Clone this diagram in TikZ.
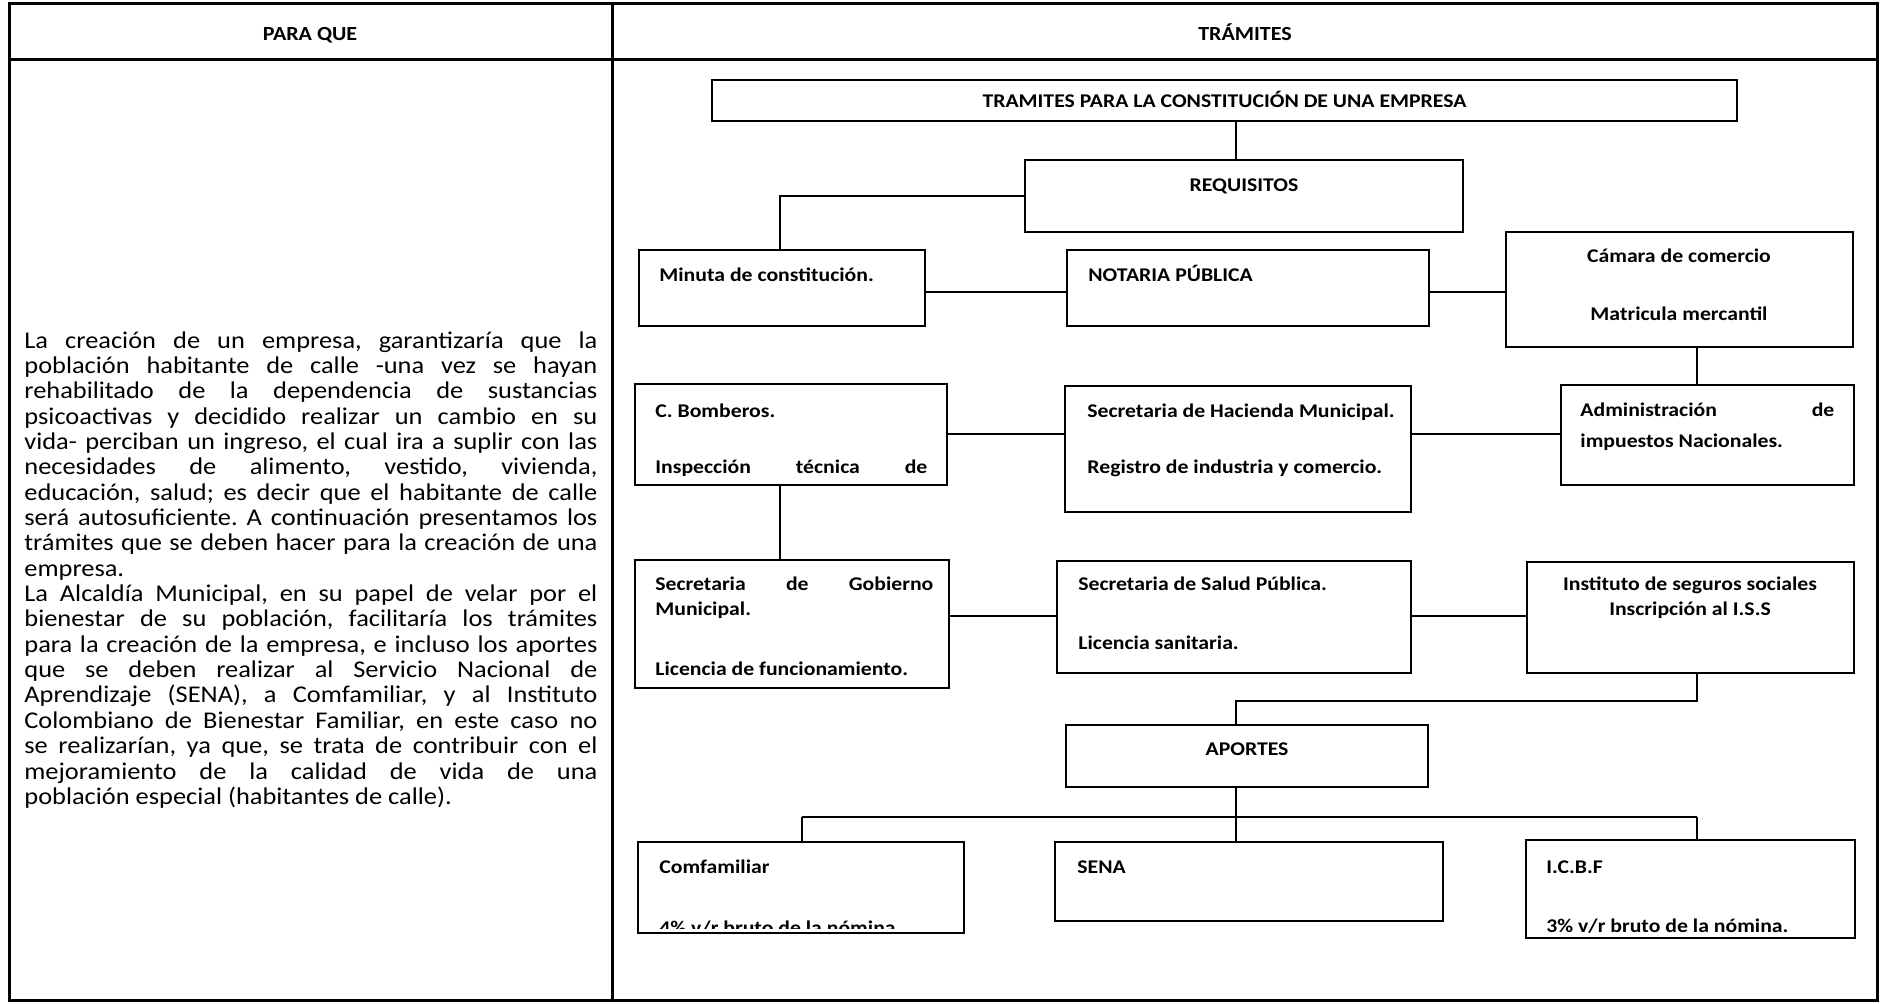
\documentclass[tikz,border=0pt]{standalone}
\usepackage{fontspec}
\setmainfont{Carlito}[FakeStretch=1.1]
\newfontfamily\diafont{Carlito}[FakeStretch=1.12]
\usetikzlibrary{fit,shadows}
\newcommand\jline[2]{\makebox[#1][s]{#2}}
\tikzset{
  tbl/.style={line width=1.5pt},
  bx/.style={draw, line width=0.7pt, fill=white, inner sep=0pt,
    drop shadow={shadow xshift=0.6pt, shadow yshift=-0.6pt, fill=black!45, opacity=1}},
  cn/.style={line width=0.55pt},
  dt/.style={font=\diafont\fontsize{9.7}{11}\selectfont\bfseries, inner sep=0pt, anchor=base west},
  dtc/.style={dt, anchor=base},
  hd/.style={font=\fontsize{10}{12}\selectfont\bfseries, inner sep=0pt, anchor=base},
  body/.style={font=\fontsize{12}{12.68}\selectfont, inner sep=0pt, anchor=base west},
}
\begin{document}
\frenchspacing
\begin{tikzpicture}[x=0.5pt, y=-0.5pt]
\useasboundingbox (0,0) rectangle (1883,1003);
\fill[white] (0,0) rectangle (1883,1003);
% table
\draw[tbl] (9,3.5) rectangle (1877,1000);
\draw[tbl] (9,59) -- (1877,59);
\draw[tbl] (612,3.5) -- (612,1000);
\node[hd] (hpara) at (310,40) {PARA QUE};
\node[hd] (htram) at (1245,40) {TRÁMITES};
% body text
\node[body] (b1)  at (24,348.0) {\jline{286.5pt}{La creación de un empresa, garantizaría que la}};
\node[body] (b2)  at (24,373.4) {\jline{286.5pt}{población habitante de calle -una vez se hayan}};
\node[body] (b3)  at (24,398.7) {\jline{286.5pt}{rehabilitado de la dependencia de sustancias}};
\node[body] (b4)  at (24,424.1) {\jline{286.5pt}{psicoactivas y decidido realizar un cambio en su}};
\node[body] (b5)  at (24,449.4) {\jline{286.5pt}{vida- perciban un ingreso, el cual ira a suplir con las}};
\node[body] (b6)  at (24,474.8) {\jline{286.5pt}{necesidades de alimento, vestido, vivienda,}};
\node[body] (b7)  at (24,500.1) {\jline{286.5pt}{educación, salud; es decir que el habitante de calle}};
\node[body] (b8)  at (24,525.5) {\jline{286.5pt}{será autosuficiente. A continuación presentamos los}};
\node[body] (b9)  at (24,550.8) {\jline{286.5pt}{trámites que se deben hacer para la creación de una}};
\node[body] (b10) at (24,576.2) {empresa.};
\node[body] (b11) at (24,601.5) {\jline{286.5pt}{La Alcaldía Municipal, en su papel de velar por el}};
\node[body] (b12) at (24,626.9) {\jline{286.5pt}{bienestar de su población, facilitaría los trámites}};
\node[body] (b13) at (24,652.2) {\jline{286.5pt}{para la creación de la empresa, e incluso los aportes}};
\node[body] (b14) at (24,677.6) {\jline{286.5pt}{que se deben realizar al Servicio Nacional de}};
\node[body] (b15) at (24,702.9) {\jline{286.5pt}{Aprendizaje (SENA), a Comfamiliar, y al Instituto}};
\node[body] (b16) at (24,728.3) {\jline{286.5pt}{Colombiano de Bienestar Familiar, en este caso no}};
\node[body] (b17) at (24,753.6) {\jline{286.5pt}{se realizarían, ya que, se trata de contribuir con el}};
\node[body] (b18) at (24,779.0) {\jline{286.5pt}{mejoramiento de la calidad de vida de una}};
\node[body] (b19) at (24,804.3) {población especial (habitantes de calle).};
% boxes
\node[bx, fit={(712,80) (1737,121)}] (title) {};
\node[bx, fit={(1025,160) (1463,232)}] (req) {};
\node[bx, fit={(639,250) (925,326)}] (minuta) {};
\node[bx, fit={(1067,250) (1429,326)}] (notaria) {};
\node[bx, fit={(1506,232) (1853,347)}] (camara) {};
\node[bx, fit={(1561,385) (1854,485)}] (admin) {};
\node[bx, fit={(1065,386) (1411,512)}] (hacienda) {};
\node[bx, fit={(635,384) (947,485)}] (bomberos) {};
\node[bx, fit={(635,560) (949,688)}] (gobierno) {};
\node[bx, fit={(1057,561) (1411,673)}] (salud) {};
\node[bx, fit={(1527,562) (1854,673)}] (instituto) {};
\node[bx, fit={(1066,725) (1428,787)}] (aportes) {};
\node[bx, fit={(638,842) (964,933)}] (comf) {};
\node[bx, fit={(1055,842) (1443,921)}] (sena) {};
\node[bx, fit={(1526,840) (1855,938)}] (icbf) {};
% texts in boxes
\node[dtc] (t-title) at (1224.5,107) {TRAMITES PARA LA CONSTITUCIÓN DE UNA EMPRESA};
\node[dtc] (t-req) at (1244,191) {REQUISITOS};
\node[dt] (t-minuta) at (659,281) {Minuta de constitución.};
\node[dt] (t-notaria) at (1088,281) {NOTARIA PÚBLICA};
\node[dtc] (t-cam1) at (1679,262) {Cámara de comercio};
\node[dtc] (t-cam2) at (1679,320) {Matricula mercantil};
\node[dt] (t-adm1) at (1580,416) {\jline{127pt}{Administración de}};
\node[dt] (t-adm2) at (1580,447) {impuestos Nacionales.};
\node[dt] (t-hac1) at (1087,417) {Secretaria de Hacienda Municipal.};
\node[dt] (t-hac2) at (1087,473) {Registro de industria y comercio.};
\node[dt] (t-bom1) at (655,417) {C. Bomberos.};
\node[dt] (t-bom2) at (655,473) {\jline{136pt}{Inspección técnica de}};
\node[dt] (t-gob1) at (655,590) {\jline{139pt}{Secretaria de Gobierno}};
\node[dt] (t-gob2) at (655,615) {Municipal.};
\node[dt] (t-gob3) at (655,675) {Licencia de funcionamiento.};
\node[dt] (t-sal1) at (1078,590) {Secretaria de Salud Pública.};
\node[dt] (t-sal2) at (1078,649) {Licencia sanitaria.};
\node[dtc] (t-ins1) at (1690,590) {Instituto de seguros sociales};
\node[dtc] (t-ins2) at (1690,615) {Inscripción al I.S.S};
\node[dtc] (t-apo) at (1247,755) {APORTES};
\node[dt] (t-com1) at (659,873) {Comfamiliar};
\begin{scope}
  \clip (640,843) rectangle (962,928);
  \node[dt] (t-com2) at (659,934) {4\% v/r bruto de la nómina.};
\end{scope}
\node[dt] (t-sena) at (1077,873) {SENA};
\node[dt] (t-icb1) at (1546,873) {I.C.B.F};
\node[dt] (t-icb2) at (1546,932) {3\% v/r bruto de la nómina.};
% connectors
\coordinate (xA) at (1236,0);
\coordinate (xL) at (780,0);
\coordinate (xR) at (1697,0);
\coordinate (xC) at (802,0);
\coordinate (yR1) at (0,292);
\coordinate (yR2) at (0,434);
\coordinate (yR3) at (0,616);
\coordinate (yJ) at (0,701);
\coordinate (yB) at (0,817);
\draw[cn] (title.south -| xA) -- (req.north -| xA);
\draw[cn] (req.west) -| (minuta.north -| xL);
\draw[cn] (minuta.east |- yR1) -- (notaria.west |- yR1);
\draw[cn] (notaria.east |- yR1) -- (camara.west |- yR1);
\draw[cn] (camara.south -| xR) -- (admin.north -| xR);
\draw[cn] (bomberos.east |- yR2) -- (hacienda.west |- yR2);
\draw[cn] (hacienda.east |- yR2) -- (admin.west |- yR2);
\draw[cn] (bomberos.south -| xL) -- (gobierno.north -| xL);
\draw[cn] (gobierno.east |- yR3) -- (salud.west |- yR3);
\draw[cn] (salud.east |- yR3) -- (instituto.west |- yR3);
\draw[cn] (instituto.south -| xR) -- (xR |- yJ) -| (aportes.north -| xA);
\draw[cn] (aportes.south -| xA) -- (xA |- yB);
\draw[cn] (xC |- yB) -- (xR |- yB);
\draw[cn] (xC |- yB) -- (comf.north -| xC);
\draw[cn] (xA |- yB) -- (sena.north -| xA);
\draw[cn] (xR |- yB) -- (icbf.north -| xR);
\end{tikzpicture}
\end{document}
